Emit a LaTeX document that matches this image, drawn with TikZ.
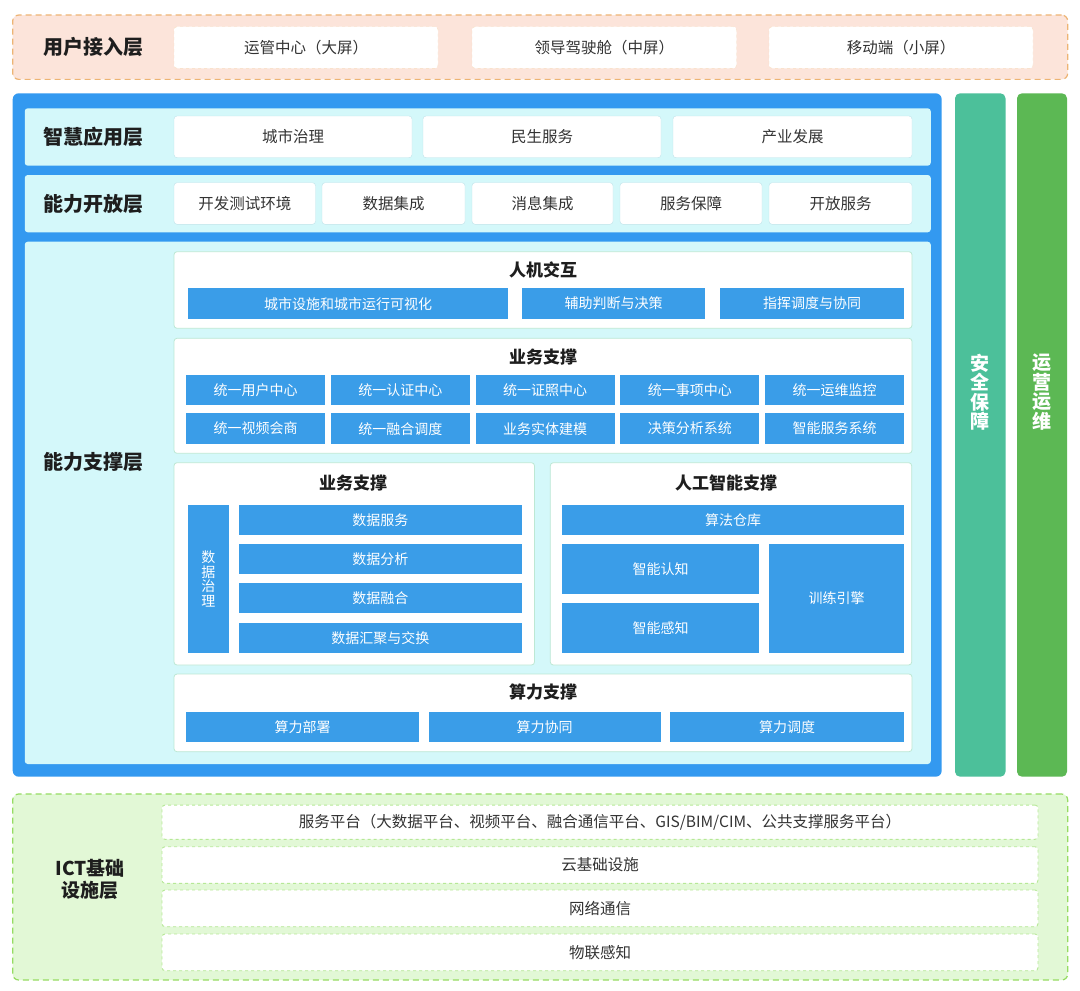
\documentclass[tikz,border=0pt]{standalone}
\usepackage{fontspec}
\setmainfont{Noto Sans CJK SC}
\usetikzlibrary{positioning}
\definecolor{pinkbg}{HTML}{FCE4DA}
\definecolor{pinkline}{HTML}{EDB474}
\definecolor{mainblue}{HTML}{3399F0}
\definecolor{barblue}{HTML}{3A9DE8}
\definecolor{cyanbg}{HTML}{D4F8FA}
\definecolor{entryline}{HTML}{BFE3EA}
\definecolor{groupline}{HTML}{BDE8D4}
\definecolor{safegreen}{HTML}{4CC09A}
\definecolor{opsgreen}{HTML}{5CB854}
\definecolor{ictbg}{HTML}{E2F8D6}
\definecolor{ictline}{HTML}{96DC62}
\definecolor{rowline}{HTML}{B6E896}
\definecolor{txtdark}{HTML}{1E1E1E}
\definecolor{txtgrey}{HTML}{333333}

\begin{document}
\begin{tikzpicture}[x=1pt,y=-1pt,
    every node/.style={inner sep=0pt,outer sep=0pt},
    layerlbl/.style={font=\bfseries\fontsize{20}{22}\selectfont,text=txtdark,align=center},
    entry/.style={draw=entryline,fill=white,rounded corners=3pt,font=\fontsize{15.5}{17}\selectfont,text=txtgrey},
    bar/.style={fill=barblue,font=\fontsize{14}{15}\selectfont,text=white},
    group/.style={draw=groupline,line width=0.8pt,fill=white,rounded corners=3pt},
    grouplbl/.style={font=\bfseries\fontsize{17}{19}\selectfont,text=txtdark},
    sidelbl/.style={font=\bfseries\fontsize{19}{19.5}\selectfont,text=white,align=center},
    dashline/.style={line width=1.2pt,dash pattern=on 6pt off 4pt}]
    \fill [white] (0,0) rectangle (1080,991);
    \useasboundingbox (0,0) rectangle (1080,991);

    \node [draw=pinkline,dashline,fill=pinkbg,rounded corners=6pt,minimum width=1055pt,minimum height=64.3pt] (topbg) at (540.2,47.2) {};
    \node [layerlbl] (yhjr) at (93,46.7) {用户接入层};
    \node [entry,draw=pinkline!45,dashed,minimum width=264pt,minimum height=41.6pt] (ygzx) at (306,47.5) {运管中心（大屏）};
    \node [entry,draw=pinkline!45,dashed,minimum width=264.5pt,minimum height=41.6pt] (ldjsc) at (604.25,47.5) {领导驾驶舱（中屏）};
    \node [entry,draw=pinkline!45,dashed,minimum width=264pt,minimum height=41.6pt] (ydd) at (901,47.5) {移动端（小屏）};

    \node [fill=mainblue,rounded corners=6pt,minimum width=929pt,minimum height=683.4pt] (zhbg) at (477.2,435) {};
    \node [fill=safegreen,rounded corners=5pt,minimum width=50.5pt,minimum height=683.4pt] (aqcol) at (980.25,435) {};
    \node [fill=opsgreen,rounded corners=5pt,minimum width=50pt,minimum height=683.4pt] (yycol) at (1042,435) {};
    \node [sidelbl] (aqbz) at (980.25,392) {安\\全\\保\\障};
    \node [sidelbl] (yyyw) at (1042,392) {运\\营\\运\\维};

    \node [fill=cyanbg,rounded corners=3pt,minimum width=906pt,minimum height=57.4pt] (rowzh) at (477.75,137) {};
    \node [fill=cyanbg,rounded corners=3pt,minimum width=906pt,minimum height=57.3pt] (rownl) at (477.75,203.65) {};
    \node [fill=cyanbg,rounded corners=3pt,minimum width=906pt,minimum height=522.3pt] (rowzc) at (477.75,502.85) {};
    \node [layerlbl] (zhyy) at (93,137) {智慧应用层};
    \node [layerlbl] (nlkf) at (93,203.65) {能力开放层};
    \node [layerlbl] (nlzc) at (93,461.7) {能力支撑层};

    \node [entry,minimum width=238pt,minimum height=41.7pt] (cszl) at (293,136.85) {城市治理};
    \node [entry,minimum width=238pt,minimum height=41.7pt] (msfw) at (542,136.85) {民生服务};
    \node [entry,minimum width=239pt,minimum height=41.7pt] (cyfz) at (792.5,136.85) {产业发展};

    \node [entry,minimum width=141.5pt,minimum height=41.6pt] (kfcs) at (244.75,203.5) {开发测试环境};
    \node [entry,minimum width=143pt,minimum height=41.6pt] (sjjc) at (393.5,203.5) {数据集成};
    \node [entry,minimum width=141pt,minimum height=41.6pt] (xxjc) at (542.5,203.5) {消息集成};
    \node [entry,minimum width=142pt,minimum height=41.6pt] (fwbz) at (691,203.5) {服务保障};
    \node [entry,minimum width=143pt,minimum height=41.6pt] (kffw) at (840.5,203.5) {开放服务};

    \node [group,minimum width=738pt,minimum height=76.6pt] (hmbox) at (543,290) {};
    \node [grouplbl] (hmjh) at (543,270) {人机交互};
    \node [bar,minimum width=320pt,minimum height=30.7pt] (csss) at (348,303.65) {城市设施和城市运行可视化};
    \node [bar,minimum width=183pt,minimum height=30.7pt] (fzpd) at (613.5,303.65) {辅助判断与决策};
    \node [bar,minimum width=184pt,minimum height=30.7pt] (zhdd) at (812,303.65) {指挥调度与协同};

    \node [group,minimum width=738pt,minimum height=115pt] (ywbox) at (543,395.8) {};
    \node [grouplbl] (ywzc) at (543,356.7) {业务支撑};
    \node [bar,minimum width=139pt,minimum height=30pt] (tyyh) at (255.5,390) {统一用户中心};
    \node [bar,minimum width=139pt,minimum height=30pt] (tyrz) at (400.25,390) {统一认证中心};
    \node [bar,minimum width=139pt,minimum height=30pt] (tyzz) at (545,390) {统一证照中心};
    \node [bar,minimum width=139pt,minimum height=30pt] (tysx) at (689.75,390) {统一事项中心};
    \node [bar,minimum width=139pt,minimum height=30pt] (tyyw) at (834.5,390) {统一运维监控};
    \node [bar,minimum width=139pt,minimum height=30.7pt] (tysp) at (255.5,428.65) {统一视频会商};
    \node [bar,minimum width=139pt,minimum height=30.7pt] (tyrh) at (400.25,428.65) {统一融合调度};
    \node [bar,minimum width=139pt,minimum height=30.7pt] (ywst) at (545,428.65) {业务实体建模};
    \node [bar,minimum width=139pt,minimum height=30.7pt] (jcfx) at (689.75,428.65) {决策分析系统};
    \node [bar,minimum width=139pt,minimum height=30.7pt] (znfw) at (834.5,428.65) {智能服务系统};

    \node [group,minimum width=360.5pt,minimum height=202.3pt] (sjbox) at (354.25,563.85) {};
    \node [grouplbl] (sjzc) at (353,483.3) {业务支撑};
    \node [bar,align=center,font=\fontsize{14}{14.7}\selectfont,minimum width=40.6pt,minimum height=147.7pt] (sjzl) at (208.3,578.85) {数\\据\\治\\理};
    \node [bar,minimum width=282.7pt,minimum height=30pt] (sjfw) at (380.35,520) {数据服务};
    \node [bar,minimum width=282.7pt,minimum height=30pt] (sjfx) at (380.35,559.3) {数据分析};
    \node [bar,minimum width=282.7pt,minimum height=30pt] (sjrh) at (380.35,598.3) {数据融合};
    \node [bar,minimum width=282.7pt,minimum height=30pt] (sjhj) at (380.35,637.7) {数据汇聚与交换};

    \node [group,minimum width=361.4pt,minimum height=202.3pt] (aibox) at (731,563.85) {};
    \node [grouplbl] (rgzn) at (726,483.3) {人工智能支撑};
    \node [bar,minimum width=342pt,minimum height=30pt] (sfck) at (733,520) {算法仓库};
    \node [bar,minimum width=197pt,minimum height=49.7pt] (znrz) at (660.5,569.15) {智能认知};
    \node [bar,minimum width=197pt,minimum height=49.4pt] (zngz) at (660.5,628) {智能感知};
    \node [bar,minimum width=135pt,minimum height=108.4pt] (xlyq) at (836.5,598.5) {训练引擎};

    \node [group,minimum width=738pt,minimum height=77.7pt] (slbox) at (543,712.85) {};
    \node [grouplbl] (slzc) at (543,691.7) {算力支撑};
    \node [bar,minimum width=233pt,minimum height=30pt] (slbs) at (302.5,726.7) {算力部署};
    \node [bar,minimum width=232pt,minimum height=30pt] (slxt) at (544.65,726.7) {算力协同};
    \node [bar,minimum width=234pt,minimum height=30pt] (sldd) at (787,726.7) {算力调度};

    \node [draw=ictline,dashline,fill=ictbg,rounded corners=6pt,minimum width=1055pt,minimum height=186pt] (ictbg) at (540.2,887) {};
    \node [layerlbl,font=\bfseries\fontsize{19}{22}\selectfont] (ictjc) at (90,879) {ICT基础\\设施层};
    \node [entry,draw=rowline,dashed,line width=0.9pt,minimum width=876pt,minimum height=34.3pt] (fwpt) at (600,822.2) {服务平台（大数据平台、视频平台、融合通信平台、GIS/BIM/CIM、公共支撑服务平台）};
    \node [entry,draw=rowline,dashed,line width=0.9pt,minimum width=876pt,minimum height=36.6pt] (yjc) at (600,865) {云基础设施};
    \node [entry,draw=rowline,dashed,line width=0.9pt,minimum width=876pt,minimum height=36.7pt] (wltx) at (600,908.35) {网络通信};
    \node [entry,draw=rowline,dashed,line width=0.9pt,minimum width=876pt,minimum height=36.7pt] (wlgz) at (600,952.35) {物联感知};
\end{tikzpicture}
\end{document}
